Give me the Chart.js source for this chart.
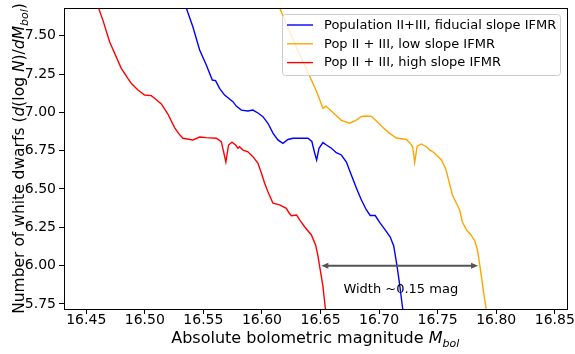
<!DOCTYPE html>
<html lang="en">
  <head>
    <meta charset="UTF-8" />
    <title>White dwarf luminosity function, IFMR slopes</title>
    <script src="https://cdn.jsdelivr.net/npm/chart.js"></script>
    <style>
      body {
        margin: 0;
        background: #ffffff;
      }
      #wdChart {
        display: block;
      }
    </style>
  </head>
  <body>
    <canvas id="wdChart" width="575" height="354"></canvas>

    <script>
      // Fiducial IFMR slope (blue)
      const magFiducial = [16.5318, 16.5354, 16.5410, 16.5468, 16.5525, 16.5576, 16.5604, 16.5638, 16.5681, 16.5752,
        16.5781, 16.5824, 16.5880, 16.5923, 16.5966, 16.6008, 16.6051, 16.6094, 16.6136, 16.6179,
        16.6222, 16.6265, 16.6393, 16.6426, 16.6450, 16.6467, 16.6487, 16.6521, 16.6550, 16.6593,
        16.6635, 16.6678, 16.6721, 16.6763, 16.6806, 16.6849, 16.6892, 16.6924, 16.6967, 16.7005,
        16.7052, 16.7095, 16.7125, 16.7153, 16.7176, 16.7201, 16.7212];
      const dnFiducial = [7.759, 7.681, 7.559, 7.407, 7.309, 7.211, 7.207, 7.157, 7.113, 7.070,
        7.041, 7.015, 7.009, 7.015, 6.996, 6.972, 6.929, 6.865, 6.820, 6.798,
        6.823, 6.831, 6.831, 6.810, 6.735, 6.689, 6.766, 6.803, 6.787, 6.766,
        6.737, 6.722, 6.676, 6.591, 6.507, 6.428, 6.363, 6.327, 6.327, 6.282,
        6.233, 6.187, 6.128, 5.998, 5.874, 5.722, 5.659];

      // Low IFMR slope (orange)
      const magLow = [16.6105, 16.6151, 16.6279, 16.6407, 16.6464, 16.6478, 16.6521, 16.6546, 16.6606, 16.6678,
        16.6749, 16.6806, 16.6849, 16.6892, 16.6934, 16.6977, 16.7033, 16.7090, 16.7148, 16.7233,
        16.7267, 16.7287, 16.7304, 16.7325, 16.7361, 16.7404, 16.7432, 16.7460, 16.7489, 16.7532,
        16.7569, 16.7597, 16.7626, 16.7660, 16.7688, 16.7711, 16.7746, 16.7788, 16.7817, 16.7838,
        16.7853, 16.7874, 16.7893, 16.7913, 16.7923];
      const dnLow = [7.759, 7.681, 7.452, 7.237, 7.139, 7.113, 7.026, 7.041, 6.999, 6.948,
        6.929, 6.950, 6.973, 6.976, 6.974, 6.944, 6.901, 6.863, 6.833, 6.823,
        6.797, 6.774, 6.673, 6.779, 6.794, 6.776, 6.754, 6.743, 6.722, 6.689,
        6.631, 6.548, 6.461, 6.407, 6.363, 6.285, 6.233, 6.197, 6.161, 6.109,
        6.037, 5.928, 5.820, 5.722, 5.659];

      // High IFMR slope (red)
      const magHigh = [16.4567, 16.4605, 16.4642, 16.4699, 16.4799, 16.4855, 16.4884, 16.4941, 16.4998, 16.5055,
        16.5083, 16.5141, 16.5197, 16.5254, 16.5288, 16.5325, 16.5410, 16.5468, 16.5525, 16.5610,
        16.5653, 16.5692, 16.5715, 16.5744, 16.5775, 16.5795, 16.5809, 16.5838, 16.5880, 16.5923,
        16.5966, 16.5995, 16.6023, 16.6051, 16.6094, 16.6151, 16.6208, 16.6232, 16.6251, 16.6296,
        16.6322, 16.6364, 16.6422, 16.6458, 16.6478, 16.6493, 16.6521, 16.6541, 16.6552];
      const dnHigh = [7.759, 7.681, 7.602, 7.461, 7.287, 7.222, 7.190, 7.146, 7.113, 7.109,
        7.092, 7.055, 6.989, 6.901, 6.863, 6.831, 6.820, 6.839, 6.835, 6.831,
        6.809, 6.676, 6.787, 6.805, 6.787, 6.766, 6.776, 6.754, 6.743, 6.711,
        6.668, 6.604, 6.537, 6.482, 6.407, 6.396, 6.374, 6.343, 6.326, 6.330,
        6.298, 6.254, 6.200, 6.135, 6.063, 5.993, 5.863, 5.722, 5.659];

      const seriesLabels = [
        "Population II+III, fiducial slope IFMR",
        "Pop II + III, low slope IFMR",
        "Pop II + III, high slope IFMR"
      ];

      const xTicks = [16.45, 16.50, 16.55, 16.60, 16.65, 16.70, 16.75, 16.80, 16.85];
      const yTicks = [5.75, 6.00, 6.25, 6.50, 6.75, 7.00, 7.25, 7.50];
      const xLimits = [16.431, 16.860];
      const yLimits = [5.717, 7.681];

      // width of the cooling cut-off, measured at log N = 6
      const widthEnds = [16.6507, 16.7845];
      const widthLevel = 6.00;
      const widthText = "Width ~0.15 mag";
      const widthTextPos = [16.7185, 5.841];

      const FONT = "'DejaVu Sans', sans-serif";

      function toPoints(xs, ys) {
        return xs.map((v, i) => ({ x: v, y: ys[i] }));
      }

      // draws a run of text pieces (normal / italic / subscript) from x,y
      function drawRuns(ctx, runs, x, y) {
        let cx = x;
        runs.forEach((r) => {
          ctx.font = r.font;
          ctx.fillText(r.text, cx, y + (r.dy || 0));
          cx += ctx.measureText(r.text).width;
        });
      }
      function runsWidth(ctx, runs) {
        let w = 0;
        runs.forEach((r) => {
          ctx.font = r.font;
          w += ctx.measureText(r.text).width;
        });
        return w;
      }

      const xTitle = [
        { text: "Absolute bolometric magnitude ", font: "16px " + FONT },
        { text: "M", font: "italic 16px " + FONT },
        { text: "bol", font: "italic 11px " + FONT, dy: 4 }
      ];
      const yTitle = [
        { text: "Number of white dwarfs (", font: "15.5px " + FONT },
        { text: "d", font: "italic 15.5px " + FONT },
        { text: "(log ", font: "15.5px " + FONT },
        { text: "N", font: "italic 15.5px " + FONT },
        { text: ")/", font: "15.5px " + FONT },
        { text: "dM", font: "italic 15.5px " + FONT },
        { text: "bol", font: "italic 11px " + FONT, dy: 4 },
        { text: ")", font: "15.5px " + FONT }
      ];

      const extras = {
        id: "extras",
        afterDatasetsDraw(chart) {
          const { ctx, chartArea: a, scales } = chart;
          const sx = scales.x, sy = scales.y;
          ctx.save();

          // double-headed width arrow
          const x1 = sx.getPixelForValue(widthEnds[0]);
          const x2 = sx.getPixelForValue(widthEnds[1]);
          const ay = sy.getPixelForValue(widthLevel);
          ctx.strokeStyle = "#555555";
          ctx.fillStyle = "#555555";
          ctx.lineWidth = 2;
          ctx.beginPath();
          ctx.moveTo(x1 + 4, ay);
          ctx.lineTo(x2 - 4, ay);
          ctx.stroke();
          ctx.beginPath();
          ctx.moveTo(x1, ay);
          ctx.lineTo(x1 + 7, ay - 3);
          ctx.lineTo(x1 + 7, ay + 3);
          ctx.closePath();
          ctx.fill();
          ctx.beginPath();
          ctx.moveTo(x2, ay);
          ctx.lineTo(x2 - 7, ay - 3);
          ctx.lineTo(x2 - 7, ay + 3);
          ctx.closePath();
          ctx.fill();

          ctx.fillStyle = "#000000";
          ctx.font = "13px " + FONT;
          ctx.textAlign = "center";
          ctx.textBaseline = "middle";
          ctx.fillText(widthText, sx.getPixelForValue(widthTextPos[0]), sy.getPixelForValue(widthTextPos[1]));

          // legend box, upper right
          const lx = 282, ly = 14, lw = 278, lh = 61;
          ctx.beginPath();
          ctx.roundRect(lx + 0.5, ly + 0.5, lw, lh, 3);
          ctx.fillStyle = "rgba(255,255,255,0.8)";
          ctx.fill();
          ctx.strokeStyle = "#cccccc";
          ctx.lineWidth = 1;
          ctx.stroke();
          ctx.textAlign = "left";
          ctx.font = "13px " + FONT;
          chart.data.datasets.forEach((ds, i) => {
            const ry = 25 + i * 18.8;
            ctx.strokeStyle = ds.borderColor;
            ctx.lineWidth = 1.4;
            ctx.beginPath();
            ctx.moveTo(287, ry);
            ctx.lineTo(313, ry);
            ctx.stroke();
            ctx.fillStyle = "#000000";
            ctx.fillText(ds.label, 324, ry + 0.5);
          });

          // axes frame
          ctx.strokeStyle = "#000000";
          ctx.lineWidth = 1;
          ctx.strokeRect(Math.round(a.left) + 0.5, Math.round(a.top) + 0.5,
            Math.round(a.right - a.left), Math.round(a.bottom - a.top));
          ctx.restore();
        },
        afterDraw(chart) {
          const { ctx, chartArea: a } = chart;
          ctx.save();
          ctx.fillStyle = "#000000";
          ctx.textBaseline = "alphabetic";
          ctx.textAlign = "left";
          const wx = runsWidth(ctx, xTitle);
          drawRuns(ctx, xTitle, (a.left + a.right) / 2 - wx / 2, 343);

          const wy = runsWidth(ctx, yTitle);
          ctx.translate(24, (a.top + a.bottom) / 2);
          ctx.rotate(-Math.PI / 2);
          drawRuns(ctx, yTitle, -wy / 2, 0);
          ctx.restore();
        }
      };

      const lineStyle = {
        showLine: true,
        pointRadius: 0,
        borderWidth: 1.4,
        tension: 0,
        fill: false
      };

      new Chart(document.getElementById("wdChart"), {
        type: "scatter",
        data: {
          datasets: [
            Object.assign({ label: seriesLabels[0], data: toPoints(magFiducial, dnFiducial), borderColor: "#0000ff" }, lineStyle),
            Object.assign({ label: seriesLabels[1], data: toPoints(magLow, dnLow), borderColor: "#ffa500" }, lineStyle),
            Object.assign({ label: seriesLabels[2], data: toPoints(magHigh, dnHigh), borderColor: "#ff0000" }, lineStyle)
          ]
        },
        options: {
          responsive: false,
          animation: false,
          devicePixelRatio: 1,
          layout: { padding: { top: 8, right: 8.5, left: 0, bottom: 0 } },
          plugins: {
            legend: { display: false },
            tooltip: { enabled: false }
          },
          scales: {
            x: {
              type: "linear",
              min: xLimits[0],
              max: xLimits[1],
              afterBuildTicks: (axis) => {
                axis.ticks = xTicks.map((v) => ({ value: v }));
              },
              afterFit: (axis) => {
                axis.height = 45;
                axis.paddingLeft = 0;
                axis.paddingRight = 0;
              },
              ticks: {
                callback: (v) => v.toFixed(2),
                color: "#000000",
                font: { family: FONT, size: 14 },
                padding: -2,
                maxRotation: 0,
                autoSkip: false
              },
              grid: { drawOnChartArea: false, tickLength: 5, color: "#000000" },
              border: { color: "#000000" }
            },
            y: {
              type: "linear",
              min: yLimits[0],
              max: yLimits[1],
              afterBuildTicks: (axis) => {
                axis.ticks = yTicks.map((v) => ({ value: v }));
              },
              afterFit: (axis) => {
                axis.width = 64;
                axis.paddingTop = 0;
                axis.paddingBottom = 0;
              },
              ticks: {
                callback: (v) => v.toFixed(2),
                color: "#000000",
                font: { family: FONT, size: 14 },
                padding: 3,
                autoSkip: false
              },
              grid: { drawOnChartArea: false, tickLength: 5, color: "#000000" },
              border: { color: "#000000" }
            }
          }
        },
        plugins: [extras]
      });
    </script>
  </body>
</html>
